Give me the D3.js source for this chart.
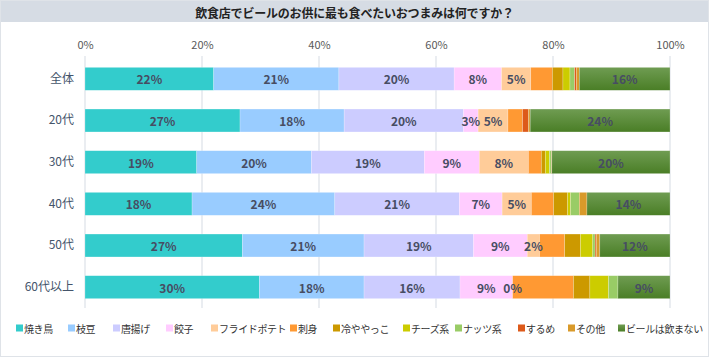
<!DOCTYPE html>
<html><head><meta charset="utf-8">
<script src="https://cdn.jsdelivr.net/npm/d3@7"></script>
<style>body{margin:0;background:#fff}svg{display:block}</style>
</head><body><svg id="c" width="709" height="357"></svg>
<script>
const title = "飲食店でビールのお供に最も食べたいおつまみは何ですか？";
const categories = ["全体","20代","30代","40代","50代","60代以上"];
const seriesNames = ["焼き鳥","枝豆","唐揚げ","餃子","フライドポテト","刺身","冷ややっこ","チーズ系","ナッツ系","するめ","その他","ビールは飲まない"];
const seriesColors = ["#33cccc","#99ccff","#ccccff","#ffccff","#ffcc99","#ff9933","#cc9900","#cccc00","#99cc66","#dd5a1a","#d99a2a","url(#gGreen)"];
const values = [
  // 焼き鳥, 枝豆, 唐揚げ, 餃子, ポテト, 刺身, 冷ややっこ, チーズ, ナッツ, するめ, その他, 飲まない
  [22.0,21.4,19.7,8.1,5.0,3.7,1.8,1.2,0.8,0.3,0.5,15.5],
  [26.5,17.8,20.4,2.5,5.1,2.5,0.0,0.0,0.0,1.0,0.3,23.9],
  [19.1,19.6,19.3,9.4,8.4,2.2,0.7,0.7,0.3,0.0,0.1,20.2],
  [18.3,24.4,21.3,7.3,5.0,3.8,2.4,0.5,1.5,0.0,1.3,14.2],
  [26.9,20.8,18.7,9.2,2.1,4.3,2.7,2.1,0.4,0.2,0.6,12.0],
  [29.8,17.9,16.4,9.0,0.0,10.4,2.8,3.2,1.6,0.0,0.0,8.9]
];
const labeledSeries = [0,1,2,3,4,11];
const xTicks = [0,20,40,60,80,100];

const svg = d3.select("#c");
const W = 709, H = 357;
const FONT = "'Noto Sans CJK JP',sans-serif";
const defs = svg.append("defs");
const g1 = defs.append("linearGradient").attr("id","gGreen").attr("x1",0).attr("y1",0).attr("x2",0).attr("y2",1);
g1.append("stop").attr("offset","0%").attr("stop-color","#6f9c52");
g1.append("stop").attr("offset","100%").attr("stop-color","#4a7e26");

svg.append("rect").attr("x",0.5).attr("y",0.5).attr("width",W-1).attr("height",H-1).attr("fill","#fff").attr("stroke","#dfe3e8");
svg.append("rect").attr("x",1).attr("y",1).attr("width",W-2).attr("height",21).attr("fill","#d6dce4");
svg.append("text").attr("x",W/2).attr("y",12).attr("text-anchor","middle").attr("dominant-baseline","central")
  .attr("font-family",FONT).attr("font-size",12).attr("letter-spacing",-0.2).attr("font-weight","bold").attr("fill","#222").text(title);

const x = d3.scaleLinear().domain([0,100]).range([85,670]);
const y = d3.scaleBand().domain(categories).range([58,308]).paddingInner(0.45).paddingOuter(0.225);

// grid
svg.append("g").selectAll("line").data(xTicks).join("line")
  .attr("x1",d=>x(d)).attr("x2",d=>x(d)).attr("y1",56).attr("y2",308)
  .attr("stroke","#e3e7ed").attr("stroke-width",1.5);

// top axis
const ax = svg.append("g").attr("transform","translate(0,50)")
  .call(d3.axisTop(x).tickValues(xTicks).tickFormat(d=>d+"%").tickSize(0).tickPadding(0));
ax.select(".domain").remove();
ax.selectAll("text").attr("font-family",FONT).attr("font-size",11).attr("fill","#595959").attr("dy","-0.1em");

// left axis
const ay = svg.append("g").attr("transform","translate(74,0)")
  .call(d3.axisLeft(y).tickSize(0).tickPadding(0));
ay.select(".domain").remove();
ay.selectAll("text").attr("font-family",FONT).attr("font-size",12).attr("fill","#44546a");

// stacked
const rows = categories.map((c,i)=>{const o={cat:c}; seriesNames.forEach((s,j)=>o[s]=values[i][j]); return o;});
const stack = d3.stack().keys(seriesNames)(rows);
const layers = svg.append("g").selectAll("g").data(stack).join("g").attr("fill",(d,i)=>seriesColors[i]);
layers.selectAll("rect").data(d=>d).join("rect")
  .attr("x",d=>x(d[0])).attr("width",d=>Math.max(0,x(d[1])-x(d[0])))
  .attr("y",d=>y(d.data.cat)).attr("height",y.bandwidth())
  .attr("stroke","#ffffff").attr("stroke-opacity",0.35).attr("stroke-width",0.6);

// labels
const lab = svg.append("g").attr("font-family",FONT).attr("font-size",12).attr("font-weight","bold").attr("fill","#474d63");
stack.forEach((layer,i)=>{
  if(!labeledSeries.includes(i)) return;
  layer.forEach(d=>{
    lab.append("text").attr("x",(x(d[0])+x(d[1]))/2).attr("y",y(d.data.cat)+y.bandwidth()/2)
      .attr("text-anchor","middle").attr("dominant-baseline","central")
      .text(Math.round(d[1]-d[0])+"%");
  });
});

// legend
const legX = [16,68,113,166,211,290,333,403,455,518,568,618];
const leg = svg.append("g").selectAll("g").data(seriesNames).join("g").attr("transform",(d,i)=>`translate(${legX[i]},328)`);
leg.append("rect").attr("x",0).attr("y",-3.5).attr("width",7).attr("height",7).attr("fill",(d,i)=>seriesColors[i]);
leg.append("text").attr("x",8).attr("y",0).attr("dominant-baseline","central")
  .attr("font-family",FONT).attr("font-size",10).attr("letter-spacing",-0.4).attr("fill","#333").text(d=>d);
</script></body></html>
